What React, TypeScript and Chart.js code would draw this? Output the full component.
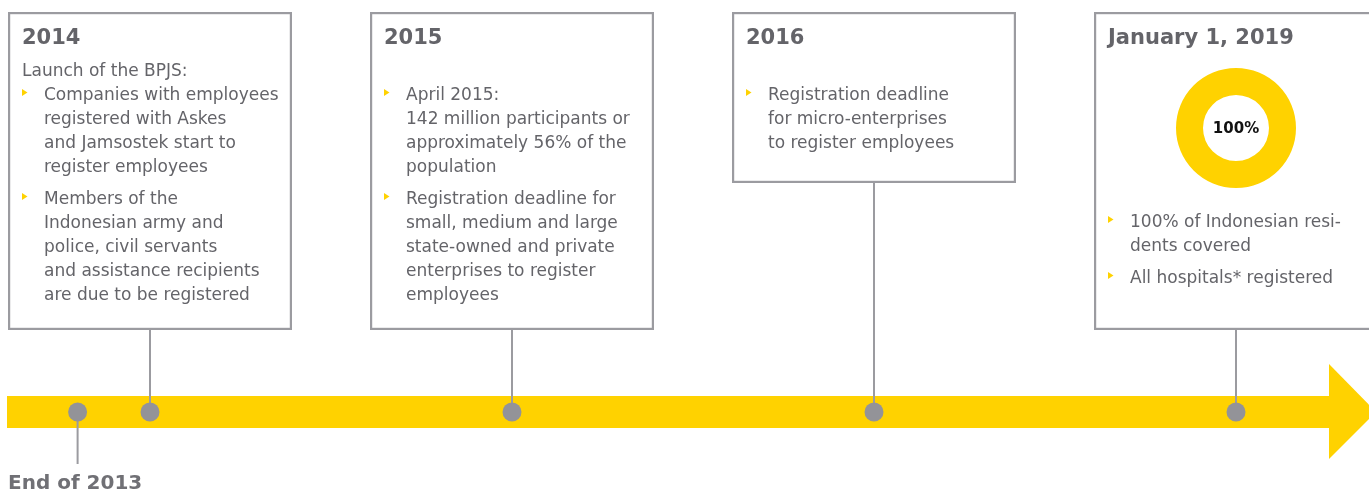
import React, { useEffect, useRef } from 'react';
import { Chart, registerables } from 'chart.js';

Chart.register(...registerables);

// ---------- data ----------
const milestones = ['End of 2013', '2014', '2015', '2016', 'January 1, 2019'];
const milestonePositions = [0.8, 1, 2, 3, 4];

const boxTitles = ['2014', '2015', '2016', 'January 1, 2019'];
const boxMilestoneIndex = [1, 2, 3, 4];
const boxIntro = ['Launch of the BPJS:', '', '', ''];
const boxBullets: string[][][] = [
  [
    ['Companies with employees', 'registered with Askes', 'and Jamsostek start to', 'register employees'],
    ['Members of the', 'Indonesian army and', 'police, civil servants', 'and assistance recipients', 'are due to be registered'],
  ],
  [
    ['April 2015:', '142 million participants or', 'approximately 56% of the', 'population'],
    ['Registration deadline for', 'small, medium and large', 'state-owned and private', 'enterprises to register', 'employees'],
  ],
  [['Registration deadline', 'for micro-enterprises', 'to register employees']],
  [['100% of Indonesian resi-', 'dents covered'], ['All hospitals* registered']],
];
const coverageValues = [100];
const coverageLabel = '100%';

// ---------- layout / style ----------
const W = 1369;
const H = 491;
const UNIT = 362;
const X_MIN = 1 - 150 / UNIT;
const X_MAX = X_MIN + W / UNIT;
const TIMELINE_Y = 412;
const BOX_TOP = 12;
const BOX_W = 284;
const boxBottoms = [330, 330, 183, 330];
const bulletStarts = [100, 100, 100, 227];
const YELLOW = '#FFD200';
const LINE_GRAY = '#9b9ba0';
const DOT_GRAY = '#939398';
const TEXT_GRAY = '#646469';
const FONT = '"DejaVu Sans", sans-serif';

const timelinePlugin = {
  id: 'timelineDecor',
  beforeDatasetsDraw(chart: any) {
    const ctx: CanvasRenderingContext2D = chart.ctx;
    const xs = chart.scales.x;
    const ys = chart.scales.y;
    const yc = ys.getPixelForValue(TIMELINE_Y);
    ctx.save();

    // arrow band
    const bx0 = 7;
    const bx1 = 1329;
    ctx.fillStyle = YELLOW;
    ctx.fillRect(bx0, yc - 16, bx1 - bx0, 32);
    ctx.beginPath();
    ctx.moveTo(bx1, yc - 48);
    ctx.lineTo(bx1 + 47, yc);
    ctx.lineTo(bx1, yc + 47);
    ctx.closePath();
    ctx.fill();

    // connector for End of 2013 (downward)
    ctx.strokeStyle = LINE_GRAY;
    ctx.lineWidth = 2;
    const x2013 = xs.getPixelForValue(milestonePositions[0]);
    ctx.beginPath();
    ctx.moveTo(x2013, yc);
    ctx.lineTo(x2013, 464);
    ctx.stroke();

    ctx.fillStyle = '#707075';
    ctx.font = `bold 20px ${FONT}`;
    ctx.textBaseline = 'alphabetic';
    ctx.textAlign = 'left';
    ctx.fillText(milestones[0], 8, 489);

    // boxes
    boxTitles.forEach((title, i) => {
      const cx = xs.getPixelForValue(milestonePositions[boxMilestoneIndex[i]]);
      const left = cx - BOX_W / 2;
      const bottom = boxBottoms[i];
      // connector
      ctx.strokeStyle = LINE_GRAY;
      ctx.lineWidth = 2;
      ctx.beginPath();
      ctx.moveTo(cx, bottom);
      ctx.lineTo(cx, yc);
      ctx.stroke();
      // box
      ctx.fillStyle = '#ffffff';
      ctx.fillRect(left, BOX_TOP, BOX_W, bottom - BOX_TOP);
      ctx.lineWidth = 2.2;
      ctx.strokeRect(left + 1.1, BOX_TOP + 1.1, BOX_W - 2.2, bottom - BOX_TOP - 2.2);

      // title
      ctx.fillStyle = TEXT_GRAY;
      ctx.font = `bold 21px ${FONT}`;
      ctx.fillText(title, left + 14, 44);

      ctx.font = `17px ${FONT}`;
      if (boxIntro[i]) ctx.fillText(boxIntro[i], left + 14, 76);

      let yy = bulletStarts[i];
      boxBullets[i].forEach((lines) => {
        ctx.fillStyle = YELLOW;
        ctx.beginPath();
        ctx.moveTo(left + 14, yy - 11);
        ctx.lineTo(left + 14, yy - 4);
        ctx.lineTo(left + 19.5, yy - 7.5);
        ctx.closePath();
        ctx.fill();
        ctx.fillStyle = TEXT_GRAY;
        lines.forEach((ln, k) => {
          ctx.fillText(ln, left + 36, yy + k * 24);
        });
        yy += (lines.length - 1) * 24 + 32;
      });
    });
    ctx.restore();
  },
};

const centerTextPlugin = {
  id: 'centerText',
  afterDatasetsDraw(chart: any) {
    const ctx: CanvasRenderingContext2D = chart.ctx;
    const a = chart.chartArea;
    ctx.save();
    ctx.fillStyle = '#111111';
    ctx.font = `bold 15px ${FONT}`;
    ctx.textAlign = 'center';
    ctx.textBaseline = 'middle';
    ctx.fillText(coverageLabel, (a.left + a.right) / 2, (a.top + a.bottom) / 2 + 1);
    ctx.restore();
  },
};

export default function App() {
  const mainRef = useRef<HTMLCanvasElement>(null);
  const donutRef = useRef<HTMLCanvasElement>(null);

  useEffect(() => {
    document.body.style.margin = '0';
    const main = new Chart(mainRef.current as HTMLCanvasElement, {
      type: 'scatter',
      data: {
        datasets: [
          {
            label: 'Milestones',
            data: milestonePositions.map((p) => ({ x: p, y: TIMELINE_Y })),
            pointRadius: 9.5,
            pointHoverRadius: 9.5,
            pointBackgroundColor: DOT_GRAY,
            pointBorderWidth: 0,
            showLine: false,
          },
        ],
      },
      options: {
        animation: false,
        responsive: false,
        events: [],
        layout: { padding: 0, autoPadding: false },
        scales: {
          x: { type: 'linear', display: false, min: X_MIN, max: X_MAX },
          y: { type: 'linear', display: false, min: 0, max: H, reverse: true },
        },
        plugins: { legend: { display: false }, tooltip: { enabled: false } },
      },
      plugins: [timelinePlugin],
    } as any);

    const donut = new Chart(donutRef.current as HTMLCanvasElement, {
      type: 'doughnut',
      data: {
        labels: ['Covered'],
        datasets: [{ data: coverageValues, backgroundColor: [YELLOW], borderWidth: 0 }],
      },
      options: {
        animation: false,
        responsive: false,
        events: [],
        cutout: '55%',
        layout: { padding: 0 },
        plugins: { legend: { display: false }, tooltip: { enabled: false } },
      },
      plugins: [centerTextPlugin],
    } as any);

    return () => {
      main.destroy();
      donut.destroy();
    };
  }, []);

  return (
    <div style={{ position: 'absolute', left: 0, top: 0, width: W, height: H, background: '#fff' }}>
      <canvas ref={mainRef} width={W} height={H} style={{ position: 'absolute', left: 0, top: 0 }} />
      <canvas
        ref={donutRef}
        width={120}
        height={120}
        style={{ position: 'absolute', left: 1176, top: 68 }}
      />
    </div>
  );
}
